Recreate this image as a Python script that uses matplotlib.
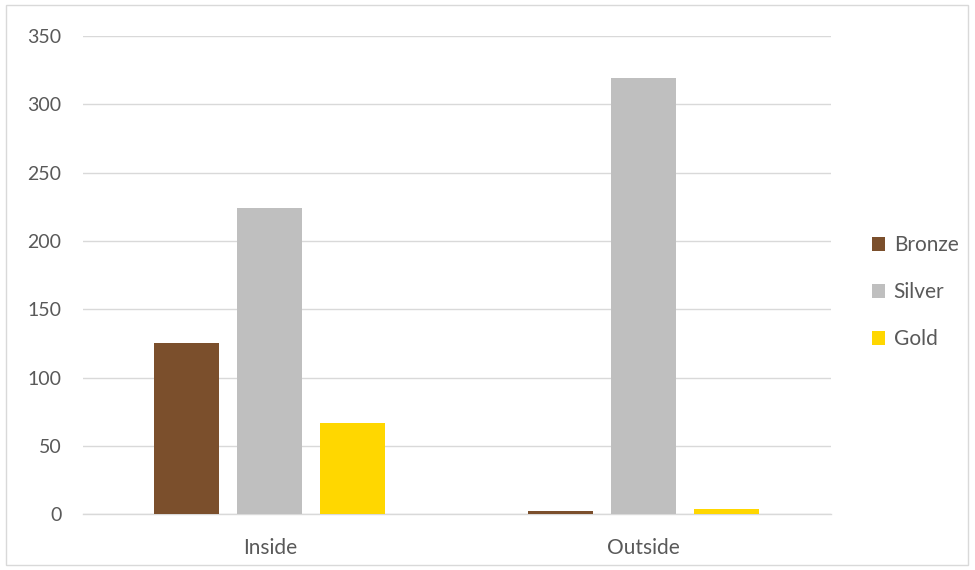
import numpy as np
import matplotlib.pyplot as plt
from matplotlib.patches import Rectangle

categories = ['Inside', 'Outside']
bronze = [125, 2]
silver = [224, 319]
gold = [67, 4]
series_names = ['Bronze', 'Silver', 'Gold']
colors = ['#7B4F2C', '#BFBFBF', '#FFD700']

plt.rcParams['font.family'] = ['Lato', 'DejaVu Sans']

fig = plt.figure(figsize=(9.75, 5.7), dpi=100)
ax = fig.add_axes([0.085, 0.098, 0.767, 0.839])

x = np.arange(len(categories))
width = 0.174
step = 0.222
for i, (vals, name, c) in enumerate(zip([bronze, silver, gold], series_names, colors)):
    ax.bar(x + (i - 1) * step, vals, width, color=c, label=name, zorder=3)

ax.set_xlim(-0.5, 1.5)
ax.set_ylim(0, 350)
ax.set_yticks(range(0, 351, 50))
ax.set_xticks(x)
ax.set_xticklabels(categories, fontsize=15)
ax.grid(axis='y', color='#D9D9D9', linewidth=1, zorder=0)
for s in ['top', 'right', 'left']:
    ax.spines[s].set_visible(False)
ax.spines['bottom'].set_color('#D9D9D9')
ax.spines['bottom'].set_linewidth(1)
ax.tick_params(axis='both', length=0, colors='#595959')
ax.tick_params(axis='y', labelsize=14, pad=15.5)
ax.tick_params(axis='x', pad=17)

ax.legend(loc='center left', bbox_to_anchor=(1.03, 0.464), frameon=False,
          fontsize=15, labelcolor='#595959', handlelength=0.65, handleheight=0.65,
          handletextpad=0.4, labelspacing=1.3)

fig.patches.append(Rectangle((6 / 975, 5 / 570), 962 / 975, 560 / 570,
                             transform=fig.transFigure, fill=False,
                             edgecolor='#D9D9D9', linewidth=1))

fig.savefig('out.png', dpi=100)
